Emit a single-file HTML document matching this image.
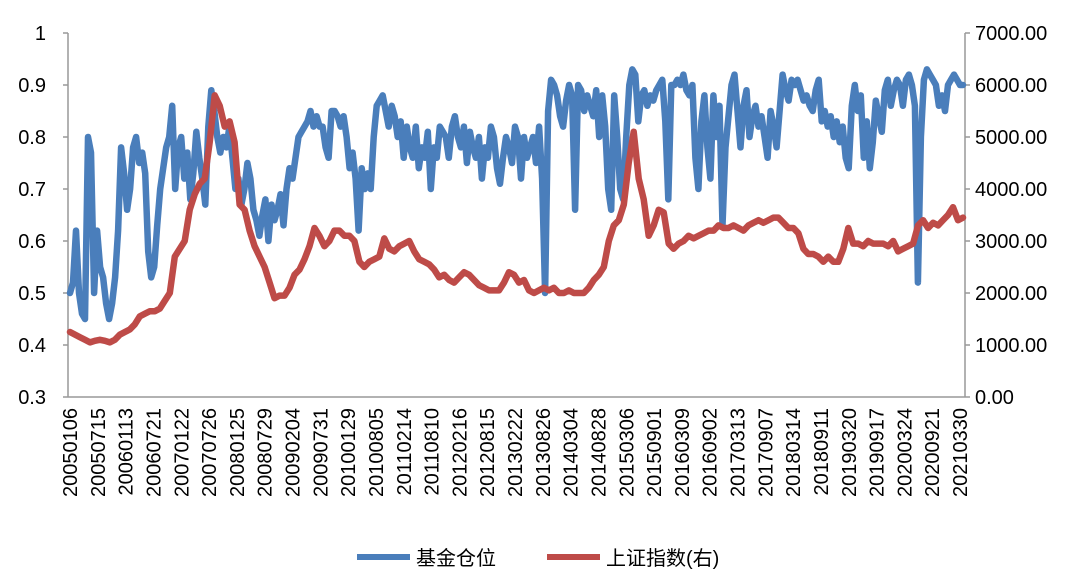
<!DOCTYPE html>
<html><head><meta charset="utf-8"><style>
html,body{margin:0;padding:0;background:#fff;}
svg{display:block;font-family:"Liberation Sans","Noto Sans CJK SC",sans-serif;}
</style></head><body>
<svg id="chart" width="1089" height="582" viewBox="0 0 1089 582" xmlns="http://www.w3.org/2000/svg">
<g id="axes"></g>
<g id="series"></g>
<g id="legend">
  <line x1="357" y1="557" x2="410" y2="557" stroke="#4a7ebb" stroke-width="6"/>
  <text x="416" y="565" font-size="20" fill="#000">基金仓位</text>
  <line x1="547" y1="557" x2="600" y2="557" stroke="#be4b48" stroke-width="6"/>
  <text x="606" y="565" font-size="20" fill="#000">上证指数(右)</text>
</g>
</svg>
<script>
const categories = ["20050106","20050715","20060113","20060721","20070122","20070726","20080125","20080729","20090204","20090731","20100129","20100805","20110214","20110810","20120216","20120815","20130222","20130826","20140304","20140828","20150306","20150901","20160309","20160902","20170313","20170907","20180314","20180911","20190320","20190917","20200324","20200921","20210330"];
const leftTicks = ["0.3","0.4","0.5","0.6","0.7","0.8","0.9","1"];
const rightTicks = ["0.00","1000.00","2000.00","3000.00","4000.00","5000.00","6000.00","7000.00"];
const fundPosition = [0.50,0.52,0.62,0.50,0.46,0.45,0.80,0.77,0.50,0.62,0.55,0.53,0.48,0.45,0.48,0.53,0.62,0.78,0.73,0.66,0.70,0.78,0.80,0.75,0.77,0.73,0.58,0.53,0.55,0.63,0.70,0.74,0.78,0.80,0.86,0.70,0.78,0.80,0.72,0.77,0.68,0.73,0.81,0.76,0.72,0.67,0.82,0.89,0.85,0.80,0.77,0.80,0.78,0.82,0.76,0.70,0.72,0.67,0.70,0.75,0.72,0.66,0.64,0.61,0.65,0.68,0.60,0.67,0.64,0.66,0.69,0.63,0.70,0.74,0.72,0.76,0.80,0.81,0.82,0.83,0.85,0.82,0.84,0.82,0.82,0.78,0.76,0.85,0.85,0.84,0.82,0.84,0.80,0.74,0.77,0.72,0.62,0.74,0.70,0.73,0.70,0.80,0.86,0.87,0.88,0.85,0.82,0.86,0.84,0.80,0.83,0.76,0.82,0.78,0.76,0.82,0.74,0.78,0.76,0.81,0.70,0.78,0.76,0.82,0.81,0.80,0.76,0.82,0.84,0.80,0.78,0.82,0.75,0.81,0.78,0.76,0.80,0.72,0.78,0.76,0.82,0.80,0.74,0.71,0.76,0.80,0.78,0.75,0.82,0.80,0.72,0.80,0.76,0.78,0.80,0.75,0.82,0.72,0.50,0.85,0.91,0.90,0.88,0.84,0.82,0.87,0.90,0.88,0.66,0.90,0.89,0.85,0.88,0.86,0.84,0.89,0.80,0.88,0.82,0.70,0.66,0.88,0.80,0.70,0.68,0.80,0.90,0.93,0.92,0.83,0.88,0.89,0.86,0.88,0.87,0.89,0.90,0.91,0.83,0.68,0.90,0.90,0.91,0.90,0.92,0.89,0.88,0.90,0.76,0.70,0.83,0.88,0.78,0.72,0.88,0.80,0.86,0.63,0.78,0.84,0.90,0.92,0.85,0.78,0.86,0.89,0.80,0.84,0.86,0.82,0.84,0.80,0.76,0.85,0.82,0.78,0.85,0.92,0.89,0.87,0.91,0.90,0.91,0.89,0.87,0.88,0.86,0.85,0.89,0.91,0.83,0.85,0.82,0.84,0.80,0.83,0.79,0.82,0.76,0.74,0.86,0.90,0.85,0.88,0.76,0.83,0.74,0.79,0.87,0.84,0.81,0.89,0.91,0.86,0.89,0.91,0.90,0.86,0.91,0.92,0.90,0.86,0.52,0.80,0.91,0.93,0.92,0.91,0.90,0.86,0.88,0.85,0.90,0.91,0.92,0.91,0.90,0.90];
const shIndex = [1250,1200,1150,1100,1050,1080,1100,1080,1050,1100,1200,1250,1300,1400,1550,1600,1650,1650,1700,1850,2000,2700,2850,3000,3600,3900,4100,4200,4900,5800,5600,5200,5300,4900,3700,3600,3200,2900,2700,2500,2200,1900,1950,1950,2100,2350,2450,2650,2900,3250,3100,2900,3000,3200,3200,3100,3100,3000,2600,2500,2600,2650,2700,3050,2850,2800,2900,2950,3000,2800,2650,2600,2550,2450,2300,2350,2250,2200,2300,2400,2350,2250,2150,2100,2050,2050,2050,2200,2400,2350,2200,2250,2050,2000,2050,2100,2050,2100,2000,2000,2050,2000,2000,2000,2100,2250,2350,2500,3000,3300,3400,3700,4500,5100,4200,3800,3100,3300,3600,3550,2950,2850,2950,3000,3100,3050,3100,3150,3200,3200,3300,3250,3250,3300,3250,3200,3300,3350,3400,3350,3400,3450,3450,3350,3250,3250,3150,2850,2750,2750,2700,2600,2700,2600,2600,2850,3250,2950,2950,2900,3000,2950,2950,2950,2900,3000,2800,2850,2900,2950,3300,3400,3250,3350,3300,3400,3500,3650,3400,3450];

const NS="http://www.w3.org/2000/svg";
const X0=68,X1=965,Y0=33,Y1=397,PX0=70,PX1=963;
const yL=v=>Y1-(v-0.3)/0.7*(Y1-Y0);
const yR=v=>Y1-v/7000*(Y1-Y0);
const xIdx=(i,n)=>PX0+i/(n-1)*(PX1-PX0);
function mk(tag,parent,attrs){const e=document.createElementNS(NS,tag);for(const k in attrs)e.setAttribute(k,attrs[k]);parent.appendChild(e);return e;}
const axes=document.getElementById('axes'),series=document.getElementById('series');
let e;
e=mk('line',axes,{x1:X0,y1:Y0,x2:X0,y2:Y1,stroke:'#999','stroke-width':1.5});


e=mk('line',axes,{x1:X1,y1:Y0,x2:X1,y2:Y1,stroke:'#999','stroke-width':1.5});


e=mk('line',axes,{x1:X0,y1:Y1,x2:X1,y2:Y1,stroke:'#999','stroke-width':1.5});


leftTicks.forEach((t,i)=>{const y=yL(parseFloat(t));
  e=mk('line',axes,{x1:X0-5,y1:y,x2:X0,y2:y,stroke:'#999','stroke-width':1.5});
  
  
  e=mk('text',axes,{x:46,y:y+7,'font-size':20,'text-anchor':'end',fill:'#000'});e.textContent=t;
  
  
});
rightTicks.forEach((t,i)=>{const y=yR(parseFloat(t));
  e=mk('line',axes,{x1:X1,y1:y,x2:X1+5,y2:y,stroke:'#999','stroke-width':1.5});
  
  
  e=mk('text',axes,{x:975,y:y+7,'font-size':20,fill:'#000'});e.textContent=t;
  
  
});
categories.forEach((c,i)=>{const x=PX0+i*((960-PX0)/(categories.length-1));
  e=mk('text',axes,{x:0,y:0,'font-size':20,'text-anchor':'end',fill:'#000',transform:`translate(${x+7},408) rotate(-90)`});e.textContent=c;
  
  
});
function line(arr,yf,color){const n=arr.length;
  const d=arr.map((v,i)=>(i?'L':'M')+xIdx(i,n).toFixed(1)+','+yf(v).toFixed(1)).join('');
  return mk('path',series,{d:d,fill:'none',stroke:color,'stroke-width':6.5,'stroke-linejoin':'round','stroke-linecap':'round'});}
e=line(fundPosition,yL,'#4a7ebb');


e=line(shIndex,yR,'#be4b48');


</script>
</body></html>
